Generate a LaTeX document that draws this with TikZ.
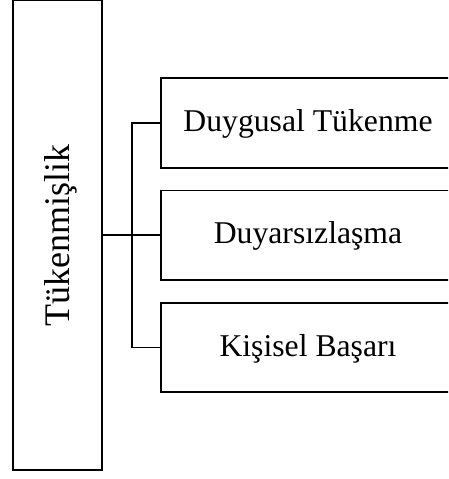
\documentclass[tikz,border=0pt]{standalone}
\usepackage{fontspec}
\setmainfont{Liberation Serif}
\begin{document}
\begin{tikzpicture}[x=1pt,y=-1pt,
  box/.style={draw=black, line width=1.8pt, inner sep=0pt},
  mainbox/.style={box, rotate=90, minimum width=469.5pt, minimum height=89pt,
    text depth=0pt, font=\fontsize{36}{40}\selectfont},
  subbox/.style={box, minimum width=294pt, minimum height=89.5pt,
    text height=22pt, text depth=5pt, font=\fontsize{31.7}{38}\selectfont},
  conn/.style={draw=black, line width=1.8pt}]
\clip (0,0) rectangle (448,479);
\node[mainbox] (main) at (57.2,235.3) {Tükenmişlik};
\node[subbox] (b1) at (308,123) {Duygusal Tükenme};
\node[subbox] (b2) at (308,235.3) {Duyarsızlaşma};
\node[subbox] (b3) at (308,347.5) {Kişisel Başarı};
\coordinate (bus) at (131.7,235.3);
\draw[conn] (main.south) -- (b2.west);
\draw[conn] (b1.west) -- (b1.west -| bus) -- (b3.west -| bus) -- (b3.west);
\end{tikzpicture}
\end{document}
